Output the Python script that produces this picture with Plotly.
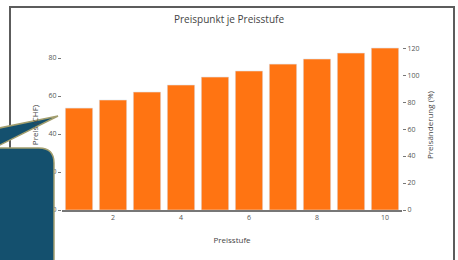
import plotly.graph_objects as go

# ---- data ----
stufen = [1, 2, 3, 4, 5, 6, 7, 8, 9, 10]
preis_chf = [53.7, 57.9, 62.1, 65.8, 70.0, 73.2, 76.8, 79.5, 82.6, 85.3]
preisaenderung_pct = [75.5, 81.5, 87.4, 92.6, 98.5, 103.0, 108.1, 111.9, 116.3, 120.0]

title_text = "Preispunkt je Preisstufe"
x_title = "Preisstufe"
y_title = "Preis (CHF)"
y2_title = "Preisänderung (%)"

W, H = 458, 260
PL, PR, PT, PB = 62, 402, 40, 210  # plot area in pixels
ML, MR, MT, MB = PL, W - PR, PT, H - PB
PW, PH = PR - PL, PB - PT


def px2paper(x, y):
    return (x - PL) / PW, (PB - y) / PH


def path_from_px(cmds):
    out = []
    for c in cmds:
        op = c[0]
        pts = c[1:]
        conv = []
        for i in range(0, len(pts), 2):
            xp, yp = px2paper(pts[i], pts[i + 1])
            conv.append(f"{xp:.5f},{yp:.5f}")
        out.append(op + " " + " ".join(conv))
    return " ".join(out) + " Z"


orange = "#ff7412"
fig = go.Figure()
fig.add_trace(go.Bar(x=stufen, y=preis_chf, marker_color=orange, name="Preis",
                     showlegend=False))
fig.add_trace(go.Bar(x=stufen, y=preisaenderung_pct, marker_color=orange,
                     name="Preisänderung", yaxis="y2", showlegend=False))

tickfont = dict(size=7, color="#555")
titlefont = dict(size=8, color="#444")

fig.update_layout(
    width=W, height=H,
    margin=dict(l=ML, r=MR, t=MT, b=MB),
    paper_bgcolor="white", plot_bgcolor="white",
    font=dict(family="Open Sans", color="#444"),
    barmode="overlay",
    title=dict(text=title_text, x=0.5, xanchor="center", yref="container",
               y=1 - 19 / H, yanchor="middle", font=dict(size=10, color="#444")),
    xaxis=dict(range=[0.5, 10.5], dtick=2, tick0=0, showgrid=False, zeroline=False,
               showline=True, linecolor="#777", linewidth=1.5, ticks="",
               tickfont=tickfont, title=dict(text=x_title, font=titlefont, standoff=16)),
    yaxis=dict(range=[0, 89.5], dtick=20, showgrid=False, zeroline=False,
               showline=False, ticks="outside", ticklen=3, tickcolor="#777",
               tickfont=tickfont, title=dict(text=y_title, font=titlefont, standoff=8)),
    yaxis2=dict(range=[0, 126], dtick=20, overlaying="y", side="right",
                showgrid=False, zeroline=False, showline=False, ticks="outside",
                ticklen=3, tickcolor="#777", tickfont=tickfont,
                title=dict(text=y2_title, font=titlefont, standoff=8)),
    bargap=0.2,
)

# frame
x0, y0 = px2paper(10, 7)
x1, y1 = px2paper(454, 300)
fig.add_shape(type="rect", xref="paper", yref="paper", x0=x0, y0=y1, x1=x1, y1=y0,
              line=dict(color="#5c5c5c", width=2), fillcolor="rgba(0,0,0,0)",
              layer="above")

# callout pointer
wedge = path_from_px([("M", -30, 134), ("L", 58, 116), ("L", -30, 160)])
fig.add_shape(type="path", xref="paper", yref="paper", path=wedge,
              fillcolor="#14506e", line=dict(color="#a29e6e", width=1.5), layer="above")
# callout body
body = path_from_px([("M", -30, 148), ("L", 39, 148), ("Q", 54, 148, 54, 163),
                     ("L", 54, 320), ("L", -30, 320)])
fig.add_shape(type="path", xref="paper", yref="paper", path=body,
              fillcolor="#14506e", line=dict(color="#a29e6e", width=1.5), layer="above")

fig.write_html("out.html",
               config={"displayModeBar": False},
               post_script="document.body.style.margin='0';document.body.style.overflow='hidden';")
